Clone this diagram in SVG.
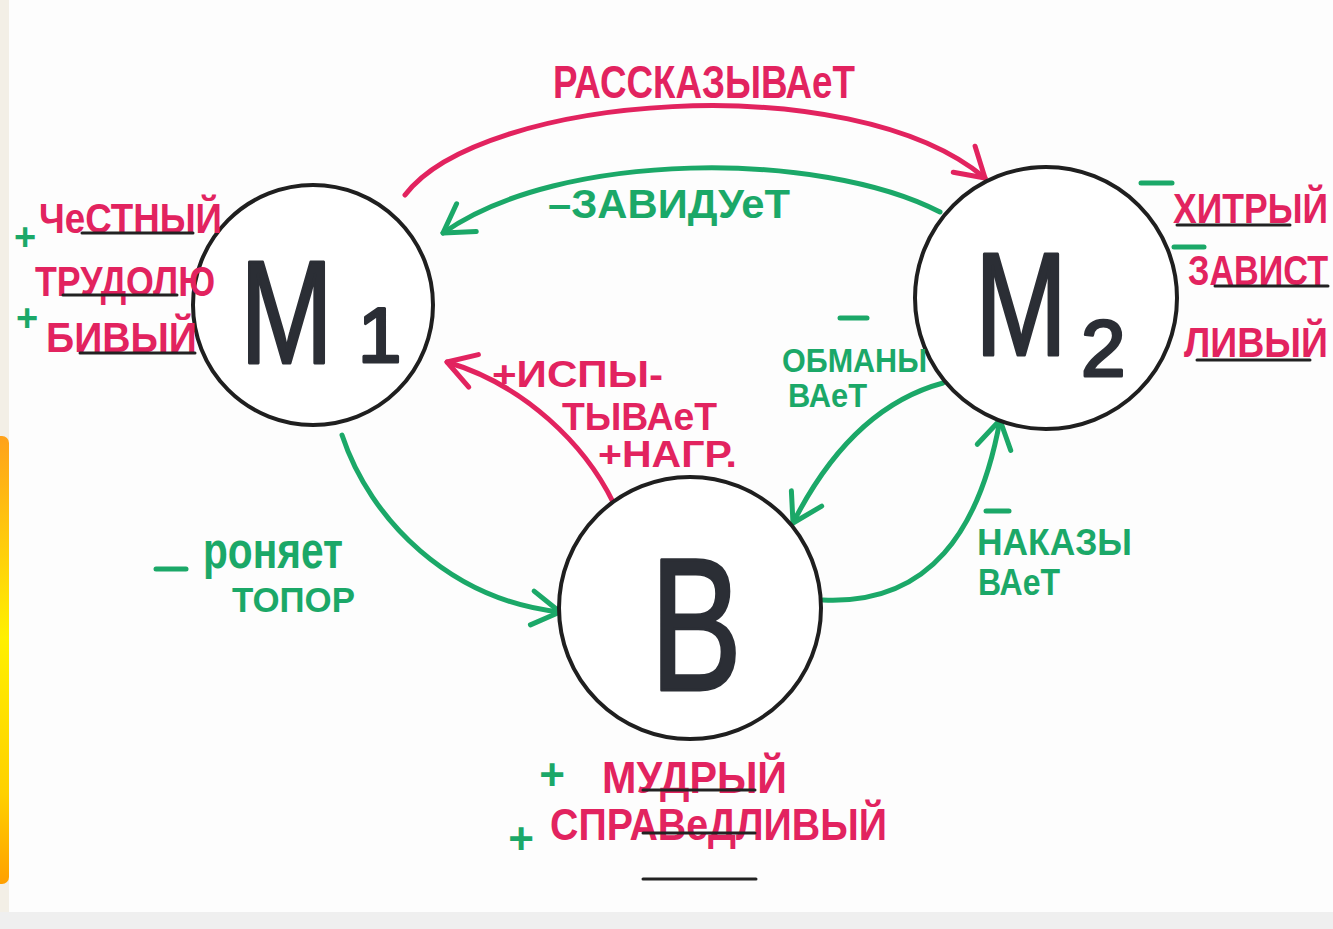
<svg xmlns="http://www.w3.org/2000/svg" width="1333" height="929" viewBox="0 0 1333 929">
  <defs>
    <linearGradient id="bar" x1="0" y1="0" x2="0" y2="1">
      <stop offset="0" stop-color="#ffa21a"/>
      <stop offset="0.45" stop-color="#fff000"/>
      <stop offset="0.8" stop-color="#ffd000"/>
      <stop offset="1" stop-color="#ffa000"/>
    </linearGradient>
    <marker id="arrG" viewBox="-34 -22 40 44" markerWidth="40" markerHeight="44" refX="0" refY="0" orient="auto" markerUnits="userSpaceOnUse">
      <path d="M-28,-18 L0,0 L-28,16" fill="none" stroke="#1ba868" stroke-width="5" stroke-linecap="round" stroke-linejoin="round"/>
    </marker>
    <marker id="arrR" viewBox="-34 -22 40 44" markerWidth="40" markerHeight="44" refX="0" refY="0" orient="auto" markerUnits="userSpaceOnUse">
      <path d="M-28,-18 L0,0 L-28,16" fill="none" stroke="#e2235f" stroke-width="5" stroke-linecap="round" stroke-linejoin="round"/>
    </marker>
  </defs>
  <style>
    .node { fill: #ffffff; stroke: #1f1f1f; stroke-width: 4; }
    .big { font-family: "Liberation Sans", Arial, sans-serif; fill: #2b2e35; stroke: #2b2e35; stroke-width: 3; stroke-linejoin: round; }
    .red { font-family: "Liberation Sans", Arial, sans-serif; font-weight: bold; fill: #e2235f; }
    .grn { font-family: "Liberation Sans", Arial, sans-serif; font-weight: bold; fill: #1ba868; }
    .eR { fill: none; stroke: #e2235f; stroke-width: 5; stroke-linecap: round; }
    .eG { fill: none; stroke: #1ba868; stroke-width: 5; stroke-linecap: round; }
    .ul { stroke: #222222; stroke-width: 3; stroke-linecap: round; }
    .dash { stroke: #1ba868; stroke-width: 5; stroke-linecap: round; }
  </style>

  <!-- paper -->
  <rect x="0" y="0" width="1333" height="929" fill="#fdfdfd"/>
  <rect x="0" y="0" width="9" height="929" fill="#f3efe6"/>
  <rect x="-6" y="436" width="15" height="448" rx="7" fill="url(#bar)"/>
  <rect x="0" y="912" width="1333" height="17" fill="#efefef"/>

  <!-- connectors -->
  <g id="connectors">
    <path class="eR" d="M405,195 C480,95 850,65 985,178" marker-end="url(#arrR)"/>
    <path class="eG" d="M940,212 C820,150 560,150 443,233" marker-end="url(#arrG)"/>
    <path class="eR" d="M613,502 C585,445 525,385 447,362" marker-end="url(#arrR)"/>
    <path class="eG" d="M943,383 C880,400 830,450 793,523" marker-end="url(#arrG)"/>
    <path class="eG" d="M823,600 C930,605 980,530 1000,420" marker-end="url(#arrG)"/>
    <path class="eG" d="M342,435 C370,520 450,600 560,612" marker-end="url(#arrG)"/>
  </g>

  <!-- nodes -->
  <g id="M1">
    <circle class="node" cx="313" cy="305" r="120"/>
    <text class="big" transform="translate(240,363) scale(0.765,1)" font-size="146">М</text>
    <text class="big" x="358" y="362" font-size="78">1</text>
  </g>
  <g id="M2">
    <circle class="node" cx="1046" cy="298" r="131"/>
    <text class="big" transform="translate(975,355) scale(0.757,1)" font-size="146">М</text>
    <text class="big" x="1081" y="376" font-size="80">2</text>
  </g>
  <g id="B">
    <circle class="node" cx="690" cy="608" r="131"/>
    <text class="big" transform="translate(650,690) scale(0.726,1)" font-size="190">В</text>
  </g>

  <!-- edge labels -->
  <g id="edge-labels">
    <text class="red" x="553" y="98" font-size="46" textLength="302" lengthAdjust="spacingAndGlyphs">РАССКАЗЫВАеТ</text>
    <text class="grn" x="548" y="218" font-size="40" textLength="242" lengthAdjust="spacingAndGlyphs">–ЗАВИДУеТ</text>
    <text class="red" x="492" y="387" font-size="37" textLength="171" lengthAdjust="spacingAndGlyphs">+ИСПЫ-</text>
    <text class="red" x="562" y="430" font-size="38" textLength="155" lengthAdjust="spacingAndGlyphs">ТЫВАеТ</text>
    <text class="red" x="598" y="467" font-size="37" textLength="139" lengthAdjust="spacingAndGlyphs">+НАГР.</text>
    <line class="dash" x1="840" y1="318" x2="867" y2="318"/>
    <text class="grn" x="782" y="372" font-size="34" textLength="145" lengthAdjust="spacingAndGlyphs">ОБМАНЫ</text>
    <text class="grn" x="788" y="407" font-size="34" textLength="79" lengthAdjust="spacingAndGlyphs">ВАеТ</text>
    <line class="dash" x1="986" y1="511" x2="1009" y2="511"/>
    <text class="grn" x="977" y="555" font-size="36" textLength="155" lengthAdjust="spacingAndGlyphs">НАКАЗЫ</text>
    <text class="grn" x="978" y="595" font-size="36" textLength="82" lengthAdjust="spacingAndGlyphs">ВАеТ</text>
    <line class="dash" x1="156" y1="569" x2="186" y2="569"/>
    <text class="grn" x="203" y="568" font-size="52" textLength="140" lengthAdjust="spacingAndGlyphs">роняет</text>
    <text class="grn" x="232" y="612" font-size="35" textLength="123" lengthAdjust="spacingAndGlyphs">ТОПОР</text>
  </g>

  <!-- M1 traits -->
  <g id="M1-traits">
    <text class="grn" x="25" y="250" font-size="38" text-anchor="middle">+</text>
    <text class="red" x="39" y="233" font-size="42" textLength="183" lengthAdjust="spacingAndGlyphs">ЧеСТНЫЙ</text>
    <line class="ul" x1="82" y1="233" x2="193" y2="233"/>
    <text class="red" x="35" y="296" font-size="42" textLength="180" lengthAdjust="spacingAndGlyphs">ТРУДОЛЮ</text>
    <line class="ul" x1="63" y1="295" x2="177" y2="295"/>
    <text class="grn" x="27" y="331" font-size="38" text-anchor="middle">+</text>
    <text class="red" x="46" y="352" font-size="42" textLength="151" lengthAdjust="spacingAndGlyphs">БИВЫЙ</text>
    <line class="ul" x1="80" y1="353" x2="195" y2="353"/>
  </g>

  <!-- M2 traits -->
  <g id="M2-traits">
    <line class="dash" x1="1141" y1="183" x2="1172" y2="183"/>
    <text class="red" transform="translate(1173,223) scale(1,1.27)" font-size="33" textLength="155" lengthAdjust="spacingAndGlyphs">ХИТРЫЙ</text>
    <line class="ul" x1="1177" y1="225" x2="1290" y2="225"/>
    <line class="dash" x1="1174" y1="247" x2="1204" y2="247"/>
    <text class="red" transform="translate(1188,285) scale(1,1.27)" font-size="33" textLength="140" lengthAdjust="spacingAndGlyphs">ЗАВИСТ</text>
    <line class="ul" x1="1215" y1="286" x2="1328" y2="286"/>
    <text class="red" transform="translate(1184,357) scale(1,1.27)" font-size="33" textLength="144" lengthAdjust="spacingAndGlyphs">ЛИВЫЙ</text>
    <line class="ul" x1="1197" y1="360" x2="1310" y2="360"/>
  </g>

  <!-- B traits -->
  <g id="B-traits">
    <text class="grn" x="552" y="790" font-size="44" text-anchor="middle">+</text>
    <text class="red" x="602" y="793" font-size="44" textLength="185" lengthAdjust="spacingAndGlyphs">МУДРЫЙ</text>
    <line class="ul" x1="643" y1="790" x2="755" y2="790"/>
    <text class="grn" x="521" y="854" font-size="44" text-anchor="middle">+</text>
    <text class="red" x="550" y="840" font-size="44" textLength="337" lengthAdjust="spacingAndGlyphs">СПРАВеДЛИВЫЙ</text>
    <line class="ul" x1="643" y1="833" x2="755" y2="833"/>
    <line class="ul" x1="643" y1="879" x2="756" y2="879"/>
  </g>
</svg>
